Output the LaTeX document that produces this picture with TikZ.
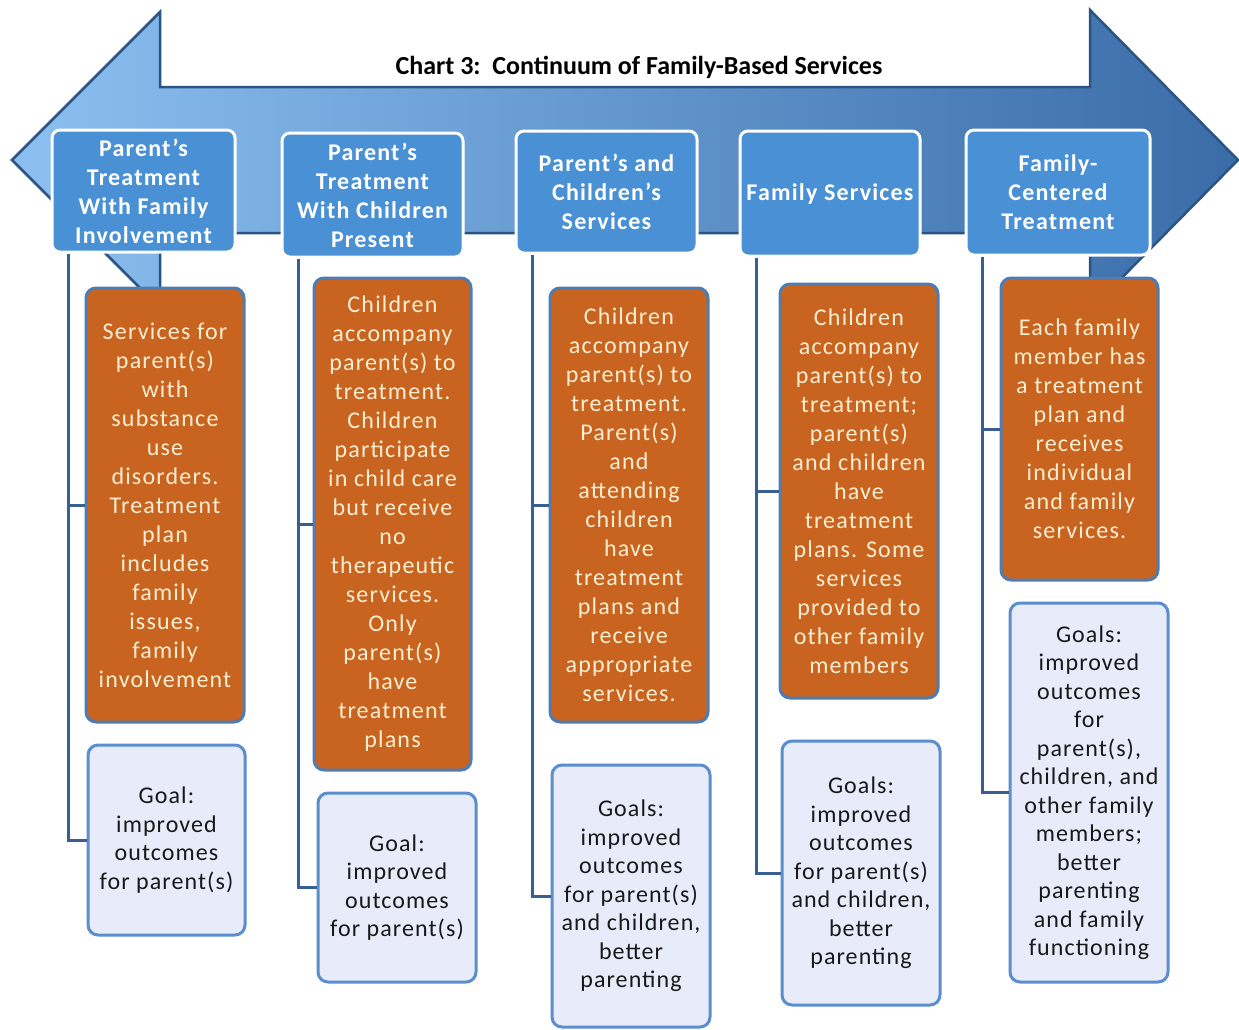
\documentclass[tikz,border=0pt]{standalone}
\usepackage{fontspec}
\setmainfont{Carlito}
\newfontfamily\boxfont[LetterSpace=5]{Carlito}
\newfontfamily\goalfont[LetterSpace=4.5]{Carlito}
\usetikzlibrary{positioning}

\definecolor{arrowlight}{RGB}{140,192,240}
\definecolor{arrowdark}{RGB}{58,108,168}
\definecolor{arrowline}{RGB}{42,84,132}
\definecolor{hdblue}{RGB}{74,144,212}
\definecolor{careorange}{RGB}{200,100,32}
\definecolor{caretext}{RGB}{250,238,210}
\definecolor{careline}{RGB}{80,124,180}
\definecolor{goalfill}{RGB}{232,236,250}
\definecolor{goalline}{RGB}{90,142,206}
\definecolor{linkblue}{RGB}{55,95,145}

\tikzset{
  hdbox/.style={draw=white, line width=3pt, fill=hdblue, rounded corners=8pt,
    text=white, font=\boxfont\fontsize{24}{29}\selectfont\bfseries, align=center, inner sep=0pt},
  carebox/.style={draw=careline, line width=3pt, fill=careorange, rounded corners=10pt,
    text=caretext, font=\boxfont\fontsize{24}{29}\selectfont, align=center, inner sep=0pt},
  goalbox/.style={draw=goalline, line width=3pt, fill=goalfill, rounded corners=10pt,
    text=black!90, font=\goalfont\fontsize{24}{28.5}\selectfont, align=center, inner sep=0pt},
  link/.style={draw=linkblue, line width=3pt}
}

\begin{document}
\begin{tikzpicture}[x=1pt,y=-1pt]
  \useasboundingbox[fill=white] (0,0) rectangle (1239,1029);

  % the double arrow behind everything
  \path[draw=arrowline, line width=2.5pt, line join=miter, left color=arrowlight, right color=arrowdark]
    (12,160) -- (160,12) -- (160,87) -- (1090,87) -- (1090,10) -- (1238,160)
    -- (1090,310) -- (1090,233) -- (160,233) -- (160,308) -- cycle;
  \node (title) at (639,67) {\fontsize{26}{30}\selectfont\bfseries Chart 3:\ \ Continuum of Family-Based Services};

  % headers
  \node[hdbox, minimum width=183pt, minimum height=122pt] (h1) at (143.5,191)
    {Parent’s\\Treatment\\With Family\\Involvement};
  \node[hdbox, minimum width=181pt, minimum height=124pt] (h2) at (372.5,195)
    {Parent’s\\Treatment\\With Children\\Present};
  \node[hdbox, minimum width=181pt, minimum height=122pt] (h3) at (606.5,192)
    {Parent’s and\\Children’s\\Services};
  \node[hdbox, minimum width=180pt, minimum height=125pt] (h4) at (830,193.5)
    {Family Services};
  \node[hdbox, minimum width=184pt, minimum height=125pt] (h5) at (1058,192.5)
    {Family-\\Centered\\Treatment};

  % services
  \node[carebox, minimum width=158pt, minimum height=434pt] (o1) at (165,505)
    {Services for\\parent(s)\\with\\substance\\use\\disorders.\\Treatment\\plan\\includes\\family\\issues,\\family\\involvement};
  \node[carebox, minimum width=157pt, minimum height=492pt] (o2) at (392.5,524)
    {Children\\accompany\\parent(s) to\\treatment.\\Children\\participate\\in child care\\but receive\\no\\therapeutic\\services.\\Only\\parent(s)\\have\\treatment\\plans};
  \node[carebox, minimum width=158pt, minimum height=434pt] (o3) at (629,505)
    {Children\\accompany\\parent(s) to\\treatment.\\Parent(s)\\and\\attending\\children\\have\\treatment\\plans and\\receive\\appropriate\\services.};
  \node[carebox, minimum width=158pt, minimum height=414pt] (o4) at (859,491)
    {Children\\accompany\\parent(s) to\\treatment;\\parent(s)\\and children\\have\\treatment\\plans. Some\\services\\provided to\\other family\\members};
  \node[carebox, minimum width=157pt, minimum height=302pt] (o5) at (1079.5,429)
    {Each family\\member has\\a treatment\\plan and\\receives\\individual\\and family\\services.};

  % goals
  \node[goalbox, minimum width=157pt, minimum height=190pt] (g1) at (166.5,840)
    {Goal:\\improved\\outcomes\\for parent(s)};
  \node[goalbox, minimum width=158pt, minimum height=189pt] (g2) at (397,887.5)
    {Goal:\\improved\\outcomes\\for parent(s)};
  \node[goalbox, minimum width=158pt, minimum height=262pt] (g3) at (631,896)
    {Goals:\\improved\\outcomes\\for parent(s)\\and children,\\better\\parenting};
  \node[goalbox, minimum width=158pt, minimum height=264pt] (g4) at (861,873)
    {Goals:\\improved\\outcomes\\for parent(s)\\and children,\\better\\parenting};
  \node[goalbox, minimum width=158pt, minimum height=379pt] (g5) at (1089,792.5)
    {Goals:\\improved\\outcomes\\for\\parent(s),\\children, and\\other family\\members;\\better\\parenting\\and family\\functioning};

  % connectors
  \foreach \n in {1,...,5}
    \path[link] ([xshift=18pt]h\n.south west) |- (o\n.west)
                ([xshift=18pt]h\n.south west) |- (g\n.west);
\end{tikzpicture}
\end{document}
